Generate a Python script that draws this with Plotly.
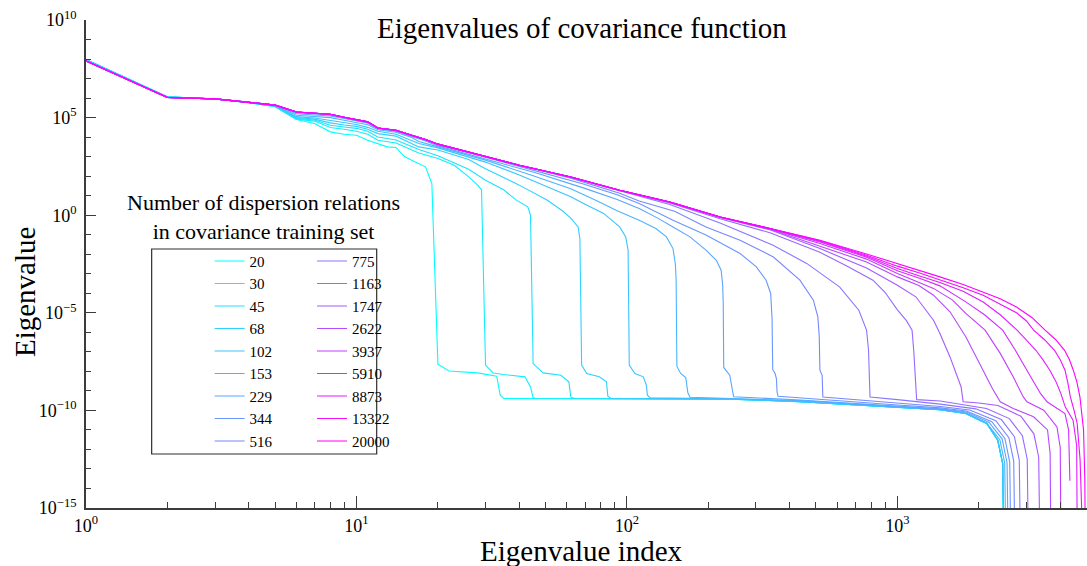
import numpy as np
import plotly.graph_objects as go

# Training-set sizes (one curve each)
n_sets = [20, 30, 45, 68, 102, 153, 229, 344, 516,
          775, 1163, 1747, 2622, 3937, 5910, 8873, 13322, 20000]

# Eigenvalue index / log10(eigenvalue) pairs for each training-set size
idx_20 = [1, 2, 3, 4, 5, 6, 7, 8, 9, 10, 11, 13, 14, 15, 16, 18, 19, 20, 22, 28, 33, 34, 35,
          100, 240, 436, 1000, 1440, 1790, 2140, 2350, 2450, 2474]
lg_20 = [7.98, 6.07, 5.95, 5.76, 5.56, 4.90, 4.70, 4.27, 4.15, 4.10, 3.84, 3.50, 3.47, 3.02, 2.82, 2.48, 1.62,
         -7.63, -7.98, -8.08, -8.25, -9.22, -9.39,
         -9.40, -9.42, -9.55, -9.85, -9.97, -10.16, -10.67, -11.53, -12.72, -17]

idx_30 = [1, 2, 3, 4, 5, 6, 7, 8, 9, 10, 11, 12, 14, 17, 20, 23, 26, 28, 29, 30, 32, 35, 42, 44, 45, 46,
          240, 436, 1000, 1440, 1790, 2140, 2350, 2450, 2475]
lg_30 = [7.98, 6.07, 5.95, 5.76, 5.57, 4.92, 4.82, 4.49, 4.40, 4.30, 4.15, 3.84, 3.70, 3.19, 2.90, 2.56,
         1.96, 1.55, 1.30, -7.68, -8.08, -8.16, -8.28, -8.80, -9.34, -9.39,
         -9.42, -9.55, -9.85, -9.97, -10.16, -10.67, -11.53, -12.72, -17]

idx_45 = [1, 2, 3, 4, 5, 6, 7, 8, 9, 10, 11, 12, 14, 17, 20, 26, 30, 35, 39, 43, 44, 45, 49, 57, 61, 62, 64,
          240, 436, 1000, 1440, 1790, 2140, 2350, 2450, 2476]
lg_45 = [7.97, 6.06, 5.95, 5.77, 5.58, 4.95, 4.88, 4.61, 4.52, 4.45, 4.30, 4.01, 3.85, 3.37, 3.05, 2.35,
         1.79, 1.30, 0.77, 0.43, 0.00, -7.60, -8.08, -8.20, -8.54, -9.31, -9.39,
         -9.42, -9.55, -9.85, -9.97, -10.16, -10.67, -11.53, -12.72, -17]

idx_68 = [1, 2, 3, 4, 5, 6, 7, 8, 9, 10, 11, 12, 14, 17, 20, 26, 30, 40, 51, 58, 62, 66, 67, 68, 71, 79,
          84, 85, 87, 240, 436, 1000, 1440, 1790, 2140, 2350, 2450, 2477]
lg_68 = [7.96, 6.06, 5.95, 5.77, 5.59, 5.00, 4.92, 4.73, 4.62, 4.55, 4.40, 4.18, 4.05, 3.50, 3.34, 2.85,
         2.38, 1.54, 0.75, 0.20, -0.15, -0.60, -1.20, -7.68, -8.11, -8.28,
         -8.54, -9.27, -9.38, -9.42, -9.55, -9.85, -9.97, -10.16, -10.67, -11.53, -12.72, -17]

idx_102 = [1, 2, 3, 4, 5, 6, 7, 8, 9, 10, 11, 12, 14, 17, 20, 26, 30, 40, 50, 62, 70, 82, 94, 99, 101,
           102, 107, 115, 118, 119, 122, 240, 436, 1000, 1440, 1790, 2140, 2350, 2450, 2478]
lg_102 = [7.95, 6.05, 5.95, 5.78, 5.60, 5.05, 4.98, 4.87, 4.75, 4.65, 4.50, 4.30, 4.15, 3.67, 3.45, 3.00,
          2.72, 2.06, 1.50, 0.94, 0.56, 0.09, -0.60, -1.11, -1.80,
          -7.68, -8.11, -8.28, -8.71, -9.22, -9.36, -9.41, -9.54, -9.84, -9.97, -10.16, -10.67, -11.53,
          -12.72, -17]

idx_153 = [1, 2, 3, 4, 5, 6, 7, 8, 9, 10, 11, 12, 14, 16, 17, 20, 26, 30, 45, 62, 77, 92, 111, 128, 140,
           148, 151, 152, 153, 158, 165, 168, 171, 436, 1000, 1440, 1790, 2140, 2392, 2493, 2518]
lg_153 = [7.93, 6.04, 5.96, 5.79, 5.62, 5.12, 5.05, 5.00, 4.86, 4.75, 4.63, 4.38, 4.25, 3.98, 3.78, 3.50,
          3.05, 2.82, 2.02, 1.36, 0.75, 0.23, -0.26, -0.68, -1.11,
          -1.71, -2.50, -3.30, -7.75, -8.11, -8.32, -9.10, -9.33, -9.50, -9.82, -9.95, -10.12, -10.65,
          -11.50, -12.70, -17]

idx_229 = [1, 2, 3, 4, 5, 6, 7, 8, 9, 10, 11, 12, 14, 16, 18, 20, 26, 40, 46, 69, 92, 111, 130, 148, 171,
           196, 214, 223, 226, 227, 228, 240, 243, 245, 248, 436, 1000, 1440, 1800, 2184, 2440, 2543, 2569]
lg_229 = [7.92, 6.04, 5.96, 5.79, 5.63, 5.20, 5.15, 5.08, 4.95, 4.83, 4.72, 4.43, 4.30, 4.03, 3.80, 3.55,
          3.12, 2.42, 2.17, 1.40, 0.80, 0.34, -0.15, -0.60, -1.11,
          -1.79, -2.31, -2.82, -3.60, -4.50, -7.80, -8.20, -8.62, -9.00, -9.30, -9.47, -9.78, -9.92,
          -10.08, -10.62, -11.47, -12.68, -17]

idx_344 = [1, 2, 3, 4, 5, 6, 7, 8, 9, 10, 11, 12, 14, 16, 18, 20, 26, 40, 69, 92, 111, 148, 196, 262, 301,
           327, 340, 344, 346, 353, 357, 359, 362, 1000, 1440, 1800, 2234, 2497, 2602, 2628]
lg_344 = [7.91, 6.03, 5.96, 5.80, 5.63, 5.25, 5.20, 5.13, 4.98, 4.86, 4.74, 4.45, 4.32, 4.06, 3.84, 3.60,
          3.20, 2.50, 1.60, 1.05, 0.60, -0.26, -1.02, -1.96, -2.65,
          -3.33, -4.01, -5.30, -7.90, -8.11, -8.37, -9.05, -9.28, -9.72, -9.87, -10.03, -10.58, -11.44,
          -12.65, -17]

idx_516 = [1, 2, 3, 4, 5, 6, 7, 8, 9, 10, 11, 12, 14, 16, 18, 20, 26, 40, 62, 94, 111, 150, 196, 262, 348,
           436, 489, 508, 514, 517, 527, 530, 1000, 1440, 1850, 2311, 2583, 2692, 2719]
lg_516 = [7.90, 6.03, 5.96, 5.80, 5.64, 5.27, 5.22, 5.15, 5.00, 4.88, 4.76, 4.46, 4.33, 4.08, 3.86, 3.62,
          3.22, 2.53, 1.90, 1.12, 0.73, 0.20, -0.60, -1.28, -2.14,
          -3.33, -4.35, -5.21, -6.20, -7.94, -8.20, -9.31, -9.62, -9.80, -9.98, -10.53, -11.40, -12.60, -17]

idx_775 = [1, 2, 3, 4, 5, 6, 7, 8, 9, 10, 11, 12, 14, 16, 18, 20, 26, 40, 62, 100, 144, 221, 347, 462, 611,
           720, 769, 782, 787, 792, 1000, 1440, 1950, 2423, 2708, 2822, 2851]
lg_775 = [7.90, 6.03, 5.96, 5.80, 5.64, 5.28, 5.23, 5.16, 5.01, 4.89, 4.77, 4.46, 4.34, 4.09, 3.87, 3.63,
          3.23, 2.55, 1.94, 1.15, 0.55, -0.40, -1.54, -2.47, -3.67,
          -4.87, -5.89, -6.90, -7.94, -9.31, -9.45, -9.68, -9.92, -10.47, -11.35, -12.55, -17]

idx_1163 = [1, 2, 3, 4, 5, 6, 7, 8, 9, 10, 11, 12, 14, 16, 18, 20, 26, 40, 62, 94, 144, 221, 338, 464, 517,
            650, 812, 900, 1000, 1080, 1133, 1150, 1170, 1178, 1440, 1790, 2135, 2593, 2898, 3020, 3050]
lg_1163 = [7.90, 6.03, 5.96, 5.80, 5.64, 5.29, 5.24, 5.17, 5.02, 4.90, 4.78, 4.47, 4.35, 4.10, 3.88, 3.64,
           3.24, 2.56, 1.95, 1.26, 0.63, -0.18, -0.90, -1.62, -1.90,
           -2.60, -3.33, -3.95, -4.85, -5.40, -5.89, -7.00, -8.50, -9.45, -9.52, -9.75, -9.90, -10.42,
           -11.30, -12.50, -17]

idx_1747 = [1, 2, 3, 4, 5, 6, 7, 8, 9, 10, 11, 12, 14, 16, 18, 20, 26, 40, 62, 94, 144, 221, 338, 517, 769,
            1000, 1170, 1360, 1436, 1565, 1720, 1750, 2000, 2355, 2860, 3196, 3330, 3364]
lg_1747 = [7.90, 6.03, 5.96, 5.80, 5.64, 5.29, 5.24, 5.17, 5.02, 4.90, 4.78, 4.47, 4.35, 4.10, 3.88, 3.64,
           3.24, 2.56, 1.96, 1.27, 0.66, -0.12, -0.75, -1.71, -2.70,
           -3.59, -4.18, -5.38, -6.06, -7.26, -8.80, -9.56, -9.62, -9.75, -10.30, -11.20, -12.40, -17]

idx_2622 = [1, 2, 3, 4, 5, 6, 7, 8, 9, 10, 11, 12, 14, 16, 18, 20, 26, 40, 62, 94, 144, 221, 338, 517, 769,
            1000, 1200, 1360, 1565, 1790, 2075, 2250, 2400, 2680, 3187, 3590, 3670, 3694]
lg_2622 = [7.90, 6.03, 5.96, 5.80, 5.64, 5.29, 5.24, 5.17, 5.02, 4.90, 4.78, 4.47, 4.35, 4.10, 3.88, 3.64,
           3.24, 2.56, 1.96, 1.28, 0.67, -0.10, -0.72, -1.59, -2.40,
           -3.16, -3.60, -4.10, -4.95, -6.23, -7.94, -8.90, -9.56, -9.90, -10.33, -11.00, -12.20, -17]

idx_3937 = [1, 2, 3, 4, 5, 6, 7, 8, 9, 10, 11, 12, 14, 16, 18, 20, 26, 40, 62, 94, 144, 221, 338, 517, 769,
            1000, 1360, 1600, 1790, 2110, 2400, 2680, 2920, 3013, 3477, 3890, 4000, 4025]
lg_3937 = [7.90, 6.03, 5.96, 5.80, 5.64, 5.29, 5.24, 5.17, 5.02, 4.90, 4.78, 4.47, 4.35, 4.10, 3.88, 3.64,
           3.24, 2.56, 1.96, 1.28, 0.68, -0.09, -0.70, -1.45, -2.25,
           -2.99, -3.75, -4.35, -5.03, -5.89, -7.08, -8.28, -9.31, -9.56, -9.99, -10.85, -11.90, -17]

idx_5910 = [1, 2, 3, 4, 5, 6, 7, 8, 9, 10, 11, 12, 14, 16, 18, 20, 26, 40, 62, 94, 144, 221, 338, 517, 769,
            1000, 1200, 1436, 1790, 2100, 2450, 2730, 3060, 3380, 3574, 4165, 4295, 4330, 4342]
lg_5910 = [7.90, 6.03, 5.96, 5.80, 5.64, 5.29, 5.24, 5.17, 5.02, 4.90, 4.78, 4.47, 4.35, 4.10, 3.88, 3.64,
           3.24, 2.56, 1.96, 1.28, 0.68, -0.09, -0.69, -1.37, -2.15,
           -2.85, -3.22, -3.62, -4.44, -5.10, -5.89, -6.92, -8.11, -9.13, -9.56, -10.16, -11.00, -12.50,
           -13.60]

idx_8873 = [1, 2, 3, 4, 5, 6, 7, 8, 9, 10, 11, 12, 14, 16, 18, 20, 26, 40, 62, 94, 144, 221, 338, 517, 769,
            1000, 1200, 1436, 1750, 2075, 2400, 2770, 3000, 3250, 3450, 3660, 3850, 4020, 4172, 4460, 4600,
            4625]
lg_8873 = [7.90, 6.03, 5.96, 5.80, 5.64, 5.29, 5.24, 5.17, 5.02, 4.90, 4.78, 4.47, 4.35, 4.10, 3.88, 3.64,
           3.24, 2.56, 1.96, 1.28, 0.68, -0.09, -0.68, -1.33, -2.10,
           -2.73, -3.10, -3.45, -3.90, -4.45, -5.10, -5.89, -6.40, -6.92, -7.40, -7.94, -8.50, -9.13, -9.82,
           -10.50, -11.80, -17]

idx_13322 = [1, 2, 3, 4, 5, 6, 7, 8, 9, 10, 11, 12, 14, 16, 18, 20, 26, 40, 62, 94, 144, 221, 338, 517, 769,
             1000, 1200, 1436, 1750, 2075, 2400, 2756, 3000, 3189, 3500, 3810, 4000, 4165, 4270, 4360, 4500,
             4620, 4735, 4851]
lg_13322 = [7.90, 6.03, 5.96, 5.80, 5.64, 5.29, 5.24, 5.17, 5.02, 4.90, 4.78, 4.47, 4.35, 4.10, 3.88, 3.64,
            3.24, 2.56, 1.96, 1.28, 0.68, -0.09, -0.68, -1.30, -2.05,
            -2.61, -2.95, -3.30, -3.72, -4.10, -4.55, -5.00, -5.42, -5.89, -6.38, -6.92, -7.40, -7.94, -8.60,
            -9.31, -10.00, -10.67, -12.50, -17]

idx_20000 = [1, 2, 3, 4, 5, 6, 7, 8, 9, 10, 11, 12, 13, 14, 16, 18, 20, 26, 40, 62, 94, 144, 221, 338, 517,
             769, 1000, 1200, 1436, 1750, 2075, 2400, 2756, 3150, 3516, 3850, 4150, 4320, 4470, 4610, 4730,
             4878, 4930, 4955]
lg_20000 = [7.90, 6.03, 5.96, 5.80, 5.64, 5.29, 5.24, 5.17, 5.02, 4.90, 4.78, 4.47, 4.42, 4.35, 4.10, 3.88,
            3.64, 3.24, 2.56, 1.96, 1.28, 0.68, -0.09, -0.68, -1.28,
            -1.99, -2.47, -2.80, -3.16, -3.55, -3.93, -4.28, -4.70, -5.25, -5.89, -6.38, -6.92, -7.38, -7.94,
            -8.55, -9.31, -11.00, -13.50, -17]

curve_idx = [idx_20, idx_30, idx_45, idx_68, idx_102, idx_153, idx_229, idx_344, idx_516,
             idx_775, idx_1163, idx_1747, idx_2622, idx_3937, idx_5910, idx_8873, idx_13322, idx_20000]
curve_lg = [lg_20, lg_30, lg_45, lg_68, lg_102, lg_153, lg_229, lg_344, lg_516,
            lg_775, lg_1163, lg_1747, lg_2622, lg_3937, lg_5910, lg_8873, lg_13322, lg_20000]

# Axis tick labels
x_tick_exp = [0, 1, 2, 3]
y_tick_exp = [-15, -10, -5, 0, 5, 10]

FONT = "Liberation Serif"
AXIS_COLOR = "#3c3c3c"


def cool(t):
    """Cyan-to-magenta colour ramp."""
    return "rgb({:d},{:d},255)".format(int(round(255 * t)), int(round(255 * (1 - t))))


def pow_label(e):
    return "10<sup>{}</sup>".format(str(e).replace("-", "\u2212"))


fig = go.Figure()
n_total = len(n_sets)
for k, (n, xi, li) in enumerate(zip(n_sets, curve_idx, curve_lg)):
    fig.add_trace(go.Scatter(
        x=xi,
        y=10.0 ** np.asarray(li, dtype=float),
        mode="lines",
        name=str(n),
        line=dict(color=cool(k / (n_total - 1)), width=1.1),
        legend="legend" if k < 9 else "legend2",
        hovertemplate="index %{x}<br>eigenvalue %{y:.3e}<extra>" + str(n) + "</extra>",
    ))

legend_common = dict(
    xanchor="left", yanchor="top",
    bgcolor="rgba(0,0,0,0)", borderwidth=0,
    font=dict(family=FONT, size=15, color="black"),
    tracegroupgap=0, itemwidth=30,
)

# minor tick positions: 2..9 within each decade on x, every decade on y
x_minor = [m * 10 ** d for d in range(0, 4) for m in range(2, 10)]
y_minor = [10.0 ** e for e in range(-15, 11)]

fig.update_layout(
    width=1087, height=566,
    margin=dict(l=86, r=0, t=20, b=58),
    plot_bgcolor="white", paper_bgcolor="white",
    font=dict(family=FONT, color="black"),
    showlegend=True,
    legend=dict(x=0.1235, y=0.5395, **legend_common),
    legend2=dict(x=0.2258, y=0.5395, **legend_common),
    xaxis=dict(
        type="log", range=[0, 3.701],
        showline=True, linecolor=AXIS_COLOR, linewidth=1.8,
        ticks="inside", ticklen=12, tickwidth=1.2, tickcolor=AXIS_COLOR,
        tickmode="array",
        tickvals=[10.0 ** e for e in x_tick_exp],
        ticktext=[pow_label(e) for e in x_tick_exp],
        showgrid=False, zeroline=False,
        tickfont=dict(family=FONT, size=18),
        minor=dict(ticks="inside", ticklen=6, tickwidth=1, tickcolor=AXIS_COLOR,
                   tickmode="array", tickvals=x_minor, showgrid=False),
    ),
    yaxis=dict(
        type="log", range=[-15, 10],
        showline=True, linecolor=AXIS_COLOR, linewidth=1.8,
        ticks="inside", ticklen=10, tickwidth=1.2, tickcolor=AXIS_COLOR,
        tickmode="array",
        tickvals=[10.0 ** e for e in y_tick_exp],
        ticktext=[pow_label(e) for e in y_tick_exp],
        showgrid=False, zeroline=False,
        tickfont=dict(family=FONT, size=18),
        ticklabelstandoff=4,
        minor=dict(ticks="inside", ticklen=5, tickwidth=1, tickcolor=AXIS_COLOR,
                   tickmode="array", tickvals=y_minor, showgrid=False),
    ),
    shapes=[dict(
        type="rect", xref="paper", yref="paper",
        x0=0.0656, x1=0.2904, y0=0.1107, y1=0.5307,
        line=dict(color="#2e2e2e", width=1.2), fillcolor="rgba(0,0,0,0)", layer="above",
    )],
    annotations=[
        dict(text="Eigenvalues of covariance function", xref="paper", yref="paper",
             x=0.4955, y=0.9836, xanchor="center", yanchor="middle", showarrow=False,
             font=dict(family=FONT, size=29)),
        dict(text="Eigenvalue index", xref="paper", yref="paper",
             x=0.4955, y=-0.088, xanchor="center", yanchor="middle", showarrow=False,
             font=dict(family=FONT, size=29)),
        dict(text="Eigenvalue", xref="paper", yref="paper", textangle=-90,
             x=-0.0609, y=0.4426, xanchor="center", yanchor="middle", showarrow=False,
             font=dict(family=FONT, size=29)),
        dict(text="Number of dispersion relations<br>in covariance training set",
             xref="paper", yref="paper", x=0.1775, y=0.5963,
             xanchor="center", yanchor="middle", showarrow=False,
             font=dict(family=FONT, size=22)),
    ],
)

fig.write_html("out.html")
